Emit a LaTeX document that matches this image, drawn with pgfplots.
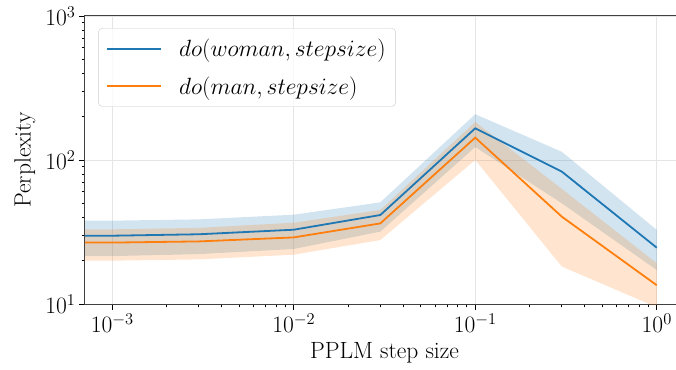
\RequirePackage{fix-cm}
\documentclass[border=0pt]{standalone}
\usepackage{pgfplots}
\usepackage{pgfplotstable}
\pgfplotsset{compat=1.18}
\definecolor{tabblue}{HTML}{1F77B4}
\definecolor{taborange}{HTML}{FF7F0E}
\pgfplotstableread{
x mean
0.0005 29.8
0.001 29.8
0.003 30.5
0.01 32.8
0.03 41.5
0.1 166
0.3 83
1 24.6
}\bluedata
\pgfplotstableread{
x mean
0.0005 26.7
0.001 26.7
0.003 27.2
0.01 29
0.03 36.3
0.1 143
0.3 40.4
1 13.5
}\orangedata
% band outlines: upper bound left to right, then lower bound right to left
\pgfplotstableread{
x y
0.0005 37.9
0.001 37.9
0.003 38.7
0.01 41.7
0.03 50.8
0.1 208
0.3 114
1 32.7
1 17.2
0.3 50
0.1 123
0.03 31.8
0.01 24.1
0.003 22.2
0.001 21.5
0.0005 21.5
}\blueband
\pgfplotstableread{
x y
0.0005 33
0.001 33
0.003 33.8
0.01 36.7
0.03 45
0.1 184
0.3 63
1 19.2
1 9.5
0.3 18.2
0.1 100
0.03 27.8
0.01 22
0.003 20.4
0.001 20
0.0005 20
}\orangeband
\begin{document}
\begin{tikzpicture}
\begin{axis}[
  at={(0,0)}, anchor=south west,
  scale only axis, width=599pt, height=288pt,
  xmode=log, ymode=log,
  xmin=7.08e-4, xmax=1.413, ymin=10, ymax=1000,
  xtick={1e-3,1e-2,1e-1,1}, ytick={10,100,1000},
  tick pos=left, tick align=outside,
  major tick length=6pt, minor tick length=3.5pt,
  every tick/.style={black, line width=0.9pt},
  axis line style={black!75, line width=1pt},
  grid=major, major grid style={black!10, line width=0.9pt},
  tick label style={font=\fontsize{23.5}{28}\selectfont},
  label style={font=\fontsize{23.5}{28}\selectfont},
  xlabel={PPLM step size}, ylabel={Perplexity},
  xlabel style={yshift=-3pt},
  ylabel style={yshift=3pt},
  legend cell align=left,
  legend style={at={(0.022,0.958)}, anchor=north west, draw=black!20, rounded corners=4pt,
    fill=white, fill opacity=0.8, text opacity=1,
    font=\fontsize{23.5}{28}\selectfont, row sep=14pt, inner xsep=8pt, inner ysep=9pt},
  legend image code/.code={\draw[#1] (0pt,0pt) -- (54pt,0pt);},
]
\addplot[fill=tabblue, fill opacity=0.2, draw=none, forget plot] table[x=x,y=y]{\blueband} -- cycle;
\addplot[fill=taborange, fill opacity=0.2, draw=none, forget plot] table[x=x,y=y]{\orangeband} -- cycle;
\addplot[tabblue, line width=1.8pt] table[x=x,y=mean]{\bluedata};
\addlegendentry{\hspace{15pt}$do(woman, stepsize)$\hspace{4pt}}
\addplot[taborange, line width=1.8pt] table[x=x,y=mean]{\orangedata};
\addlegendentry{\hspace{15pt}$do(man, stepsize)$}
\end{axis}
\pgfresetboundingbox
\useasboundingbox (-85pt,-65pt) rectangle (591pt,304pt);
\end{tikzpicture}
\end{document}
